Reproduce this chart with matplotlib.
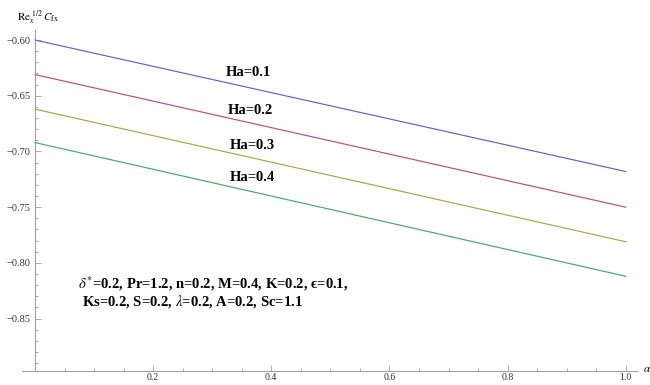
import numpy as np
import matplotlib.pyplot as plt
from matplotlib.ticker import MultipleLocator, FixedLocator, FuncFormatter

plt.rcParams['font.family'] = ['Liberation Serif', 'DejaVu Serif']
plt.rcParams['mathtext.fontset'] = 'stix'

# skin friction Re_x^{1/2} C_fx against alpha for several Hartmann numbers
alpha = [0.0, 1.0]
ha_labels = ['Ha=0.1', 'Ha=0.2', 'Ha=0.3', 'Ha=0.4']
cf_ha01 = [-0.600, -0.718]
cf_ha02 = [-0.631, -0.750]
cf_ha03 = [-0.662, -0.781]
cf_ha04 = [-0.692, -0.812]

x_ticks = [0.2, 0.4, 0.6, 0.8, 1.0]
y_ticks = [-0.60, -0.65, -0.70, -0.75, -0.80, -0.85]

colors = ['#6262c4', '#bd4a86', '#b39f4c', '#45a868']
series = [cf_ha01, cf_ha02, cf_ha03, cf_ha04]

fig = plt.figure(figsize=(6.5, 3.85), dpi=100)
ax = fig.add_axes([22 / 650, 1 - 371 / 385, (637 - 22) / 650, (371 - 30) / 385])

for vals, c in zip(series, colors):
    ax.plot(alpha, vals, color=c, lw=0.85)

ax.set_xlim(-0.022, 1.019)
ax.set_ylim(-0.897, -0.591)

# Mathematica-style axes: y axis at alpha = 0, ticks pointing inward
for s in ['top', 'right']:
    ax.spines[s].set_visible(False)
ax.spines['left'].set_position(('data', 0))
for s in ['left', 'bottom']:
    ax.spines[s].set_color('#a0a0a0')
    ax.spines[s].set_linewidth(0.8)

ax.xaxis.set_major_locator(FixedLocator(x_ticks))
ax.xaxis.set_minor_locator(MultipleLocator(0.05))
ax.yaxis.set_major_locator(FixedLocator(y_ticks))
ax.yaxis.set_minor_locator(MultipleLocator(0.01))
ax.xaxis.set_major_formatter(FuncFormatter(lambda v, p: f'{v:.1f}'))
ax.yaxis.set_major_formatter(FuncFormatter(lambda v, p: f'\u2212{abs(v):.2f}'))
ax.tick_params(which='both', direction='in', color='#a0a0a0', width=0.6,
               labelsize=7.5, labelcolor='#333333')
ax.tick_params(which='major', length=4, pad=3)
ax.tick_params(axis='x', which='major', pad=1.5, labelsize=7)
ax.tick_params(which='minor', length=2)

# curve labels
label_pos = [(0.361, -0.6295), (0.365, -0.663), (0.368, -0.6945), (0.368, -0.723)]
for (lx, ly), txt in zip(label_pos, ha_labels):
    ax.text(lx, ly, txt, fontsize=10.5, fontweight='bold', ha='center', va='center')

ax.text(0.073, -0.8185, '$\\delta^{*}$=0.2, Pr=1.2, n=0.2, M=0.4, K=0.2, \u03f5=0.1,',
        fontsize=10.5, fontweight='bold', ha='left', va='center')
ax.text(0.080, -0.8345, r'Ks=0.2, S=0.2, $\lambda$=0.2, A=0.2, Sc=1.1',
        fontsize=10.5, fontweight='bold', ha='left', va='center')

# axis labels
fig.text(17 / 650, 1 - 17 / 385, r'$\mathrm{Re}_x^{\ 1/2}\,C_{\mathrm{fx}}$',
         fontsize=8, ha='left', va='center')
fig.text(643 / 650, 1 - 369 / 385, r'$\alpha$', fontsize=8, ha='left', va='center')

fig.savefig('out.png', dpi=100)
